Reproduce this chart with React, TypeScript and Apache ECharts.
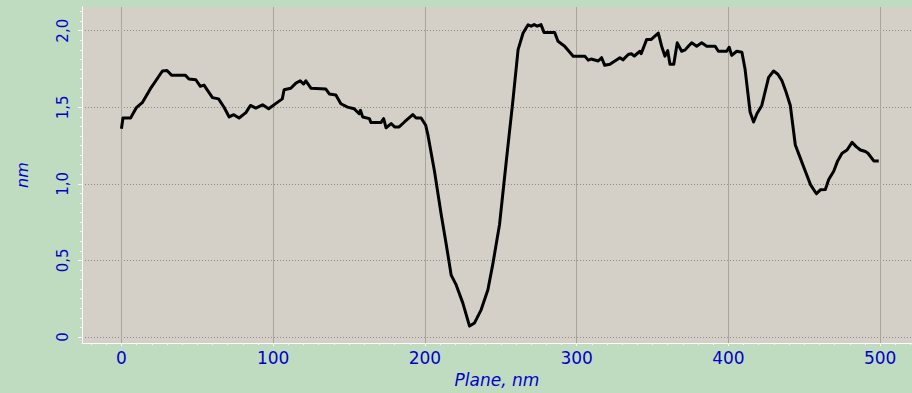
import React, { useEffect, useRef } from "react";
import * as echarts from "echarts";

// Profile: Plane (nm) vs height (nm)
const planeNm: number[] = [
  0, 1, 6, 10, 13.7, 19, 27, 30, 33, 42, 44.5, 49, 52, 54.4, 60, 64, 67.6, 71, 74, 77.5,
  82, 85, 88.5, 93, 97, 103, 106, 107.2, 111.6, 115, 117.8, 120, 121.5, 125, 134.7, 137, 141.3, 144.6, 149, 153.4,
  156.7, 157.5, 159, 163.4, 164.5, 171, 172.8, 174.4, 177.7, 180, 183, 186.5, 192, 194.2, 197.5, 200.5, 202, 206.3, 210.7, 214,
  217.3, 220.6, 225, 229.4, 232.7, 237.1, 241.5, 244.8, 249.2, 253.6, 258.1, 261.4, 264.7, 268, 270, 272, 274, 276.5, 278.5, 285.5,
  287.7, 292.1, 297.7, 305.4, 307.6, 309.5, 314.2, 316.4, 318.5, 321.9, 325.2, 328.5, 330.5, 334, 336, 338, 341.7, 342.5, 346.1, 349,
  351, 353.8, 356, 358.2, 360, 361.5, 364, 366.3, 369.2, 371.5, 373.6, 375.8, 379.1, 382.4, 385.7, 391.2, 393.4, 398.9, 400.5, 402.2,
  405.5, 408.9, 411, 414.3, 416.6, 418.8, 422, 426.5, 429.8, 432.6, 435.3, 438, 440.8, 444.1, 447.4, 450.7, 454.1, 458, 460.6, 463.9,
  466.1, 469.4, 472, 474.9, 478.2, 481.5, 484.2, 487, 490.3, 492, 495.8, 499.1,
];
const heightNm: number[] = [
  1.36, 1.43, 1.43, 1.5, 1.53, 1.62, 1.737, 1.74, 1.71, 1.71, 1.685, 1.68, 1.637, 1.645, 1.563, 1.555, 1.5, 1.437, 1.452, 1.43,
  1.465, 1.512, 1.495, 1.516, 1.49, 1.534, 1.555, 1.615, 1.624, 1.658, 1.673, 1.652, 1.673, 1.624, 1.619, 1.587, 1.581, 1.523, 1.501, 1.49,
  1.458, 1.48, 1.437, 1.426, 1.4, 1.4, 1.426, 1.366, 1.394, 1.372, 1.372, 1.404, 1.452, 1.43, 1.43, 1.383, 1.318, 1.082, 0.802, 0.608,
  0.404, 0.34, 0.221, 0.071, 0.092, 0.179, 0.308, 0.479, 0.737, 1.146, 1.555, 1.877, 1.985, 2.039, 2.03, 2.04, 2.03, 2.04, 1.989, 1.989,
  1.931, 1.899, 1.834, 1.834, 1.808, 1.815, 1.802, 1.824, 1.774, 1.781, 1.802, 1.824, 1.81, 1.845, 1.85, 1.835, 1.866, 1.85, 1.942, 1.942,
  1.96, 1.985, 1.899, 1.834, 1.87, 1.781, 1.781, 1.921, 1.866, 1.875, 1.899, 1.921, 1.899, 1.921, 1.899, 1.899, 1.866, 1.866, 1.892, 1.839,
  1.866, 1.86, 1.748, 1.469, 1.404, 1.458, 1.512, 1.695, 1.737, 1.716, 1.673, 1.6, 1.512, 1.254, 1.168, 1.082, 0.995, 0.935, 0.961, 0.963,
  1.028, 1.082, 1.15, 1.2, 1.221, 1.271, 1.243, 1.221, 1.211, 1.2, 1.15, 1.15,
];

const xTickValues: number[] = [0, 100, 200, 300, 400, 500];
const yTickValues: number[] = [0, 0.5, 1, 1.5, 2];
const xMinorTicks: number[] = [];
for (let v = -20; v <= 520; v += 10) xMinorTicks.push(v);
const yMinorTicks: number[] = [];
for (let v = 0; v <= 2.15; v += 0.0625) yMinorTicks.push(Math.round(v * 10000) / 10000);

const X_MIN = -26;
const X_MAX = 521;
const Y_MIN = -0.04;
const Y_MAX = 2.155;

const BLUE = "#0000cc";
const FONT = "DejaVu Sans";

export default function App() {
  const ref = useRef<HTMLDivElement>(null);
  useEffect(() => {
    if (!ref.current) return;
    const chart = echarts.init(ref.current, null, { renderer: "svg" });
    const data = planeNm.map((x, i) => [x, heightNm[i]]);
    chart.setOption({
      animation: false,
      backgroundColor: "#c0dcc0",
      grid: {
        left: 82,
        top: 7,
        right: 0,
        bottom: 46,
        show: true,
        backgroundColor: "#d4d0c8",
        borderWidth: 0,
      },
      xAxis: [
        {
          type: "value",
          min: X_MIN,
          max: X_MAX,
          name: "Plane, nm",
          nameLocation: "middle",
          nameGap: 26,
          nameTextStyle: { color: BLUE, fontFamily: FONT, fontSize: 17, fontStyle: "italic" },
          axisLine: { show: true, onZero: false, lineStyle: { color: "#ffffff", width: 1 } },
          axisTick: { show: true, customValues: xTickValues, length: 3, lineStyle: { color: "#ffffff" } },
          axisLabel: {
            customValues: xTickValues,
            color: BLUE,
            fontFamily: FONT,
            fontSize: 17,
            margin: 6,
          },
          splitLine: { show: true, lineStyle: { color: "#a8a49e", width: 1, type: "solid" } },
        },
        {
          type: "value",
          min: X_MIN,
          max: X_MAX,
          position: "bottom",
          axisLine: { show: false, onZero: false },
          axisTick: { show: true, customValues: xMinorTicks, length: 2, lineStyle: { color: "#f4f4f4" } },
          axisLabel: { show: false },
          splitLine: { show: false },
        },
      ],
      yAxis: [
        {
          type: "value",
          min: Y_MIN,
          max: Y_MAX,
          name: "nm",
          nameLocation: "middle",
          nameGap: 52,
          nameTextStyle: { color: BLUE, fontFamily: FONT, fontSize: 16, fontStyle: "italic" },
          axisLine: { show: true, onZero: false, lineStyle: { color: "#ffffff", width: 1 } },
          axisTick: { show: true, customValues: yTickValues, length: 4, lineStyle: { color: "#ffffff" } },
          axisLabel: {
            customValues: yTickValues,
            rotate: 90,
            color: BLUE,
            fontFamily: FONT,
            fontSize: 15,
            margin: 12,
            formatter: (v: number) => (v === 0 ? "0" : v.toFixed(1).replace(".", ",")),
          },
          splitLine: { show: true, lineStyle: { color: "#8e8a86", width: 1, type: [1, 2] } },
        },
        {
          type: "value",
          min: Y_MIN,
          max: Y_MAX,
          position: "left",
          axisLine: { show: false, onZero: false },
          axisTick: { show: true, customValues: yMinorTicks, length: 2, lineStyle: { color: "#f4f4f4" } },
          axisLabel: { show: false },
          splitLine: { show: false },
        },
      ],
      series: [
        {
          type: "line",
          xAxisIndex: 0,
          yAxisIndex: 0,
          data,
          showSymbol: false,
          symbol: "none",
          lineStyle: { color: "#000000", width: 3, join: "round" },
          z: 5,
        },
      ],
    });
    return () => chart.dispose();
  }, []);
  return (
    <div
      ref={ref}
      style={{ position: "fixed", left: 0, top: 0, width: 912, height: 393 }}
    />
  );
}
